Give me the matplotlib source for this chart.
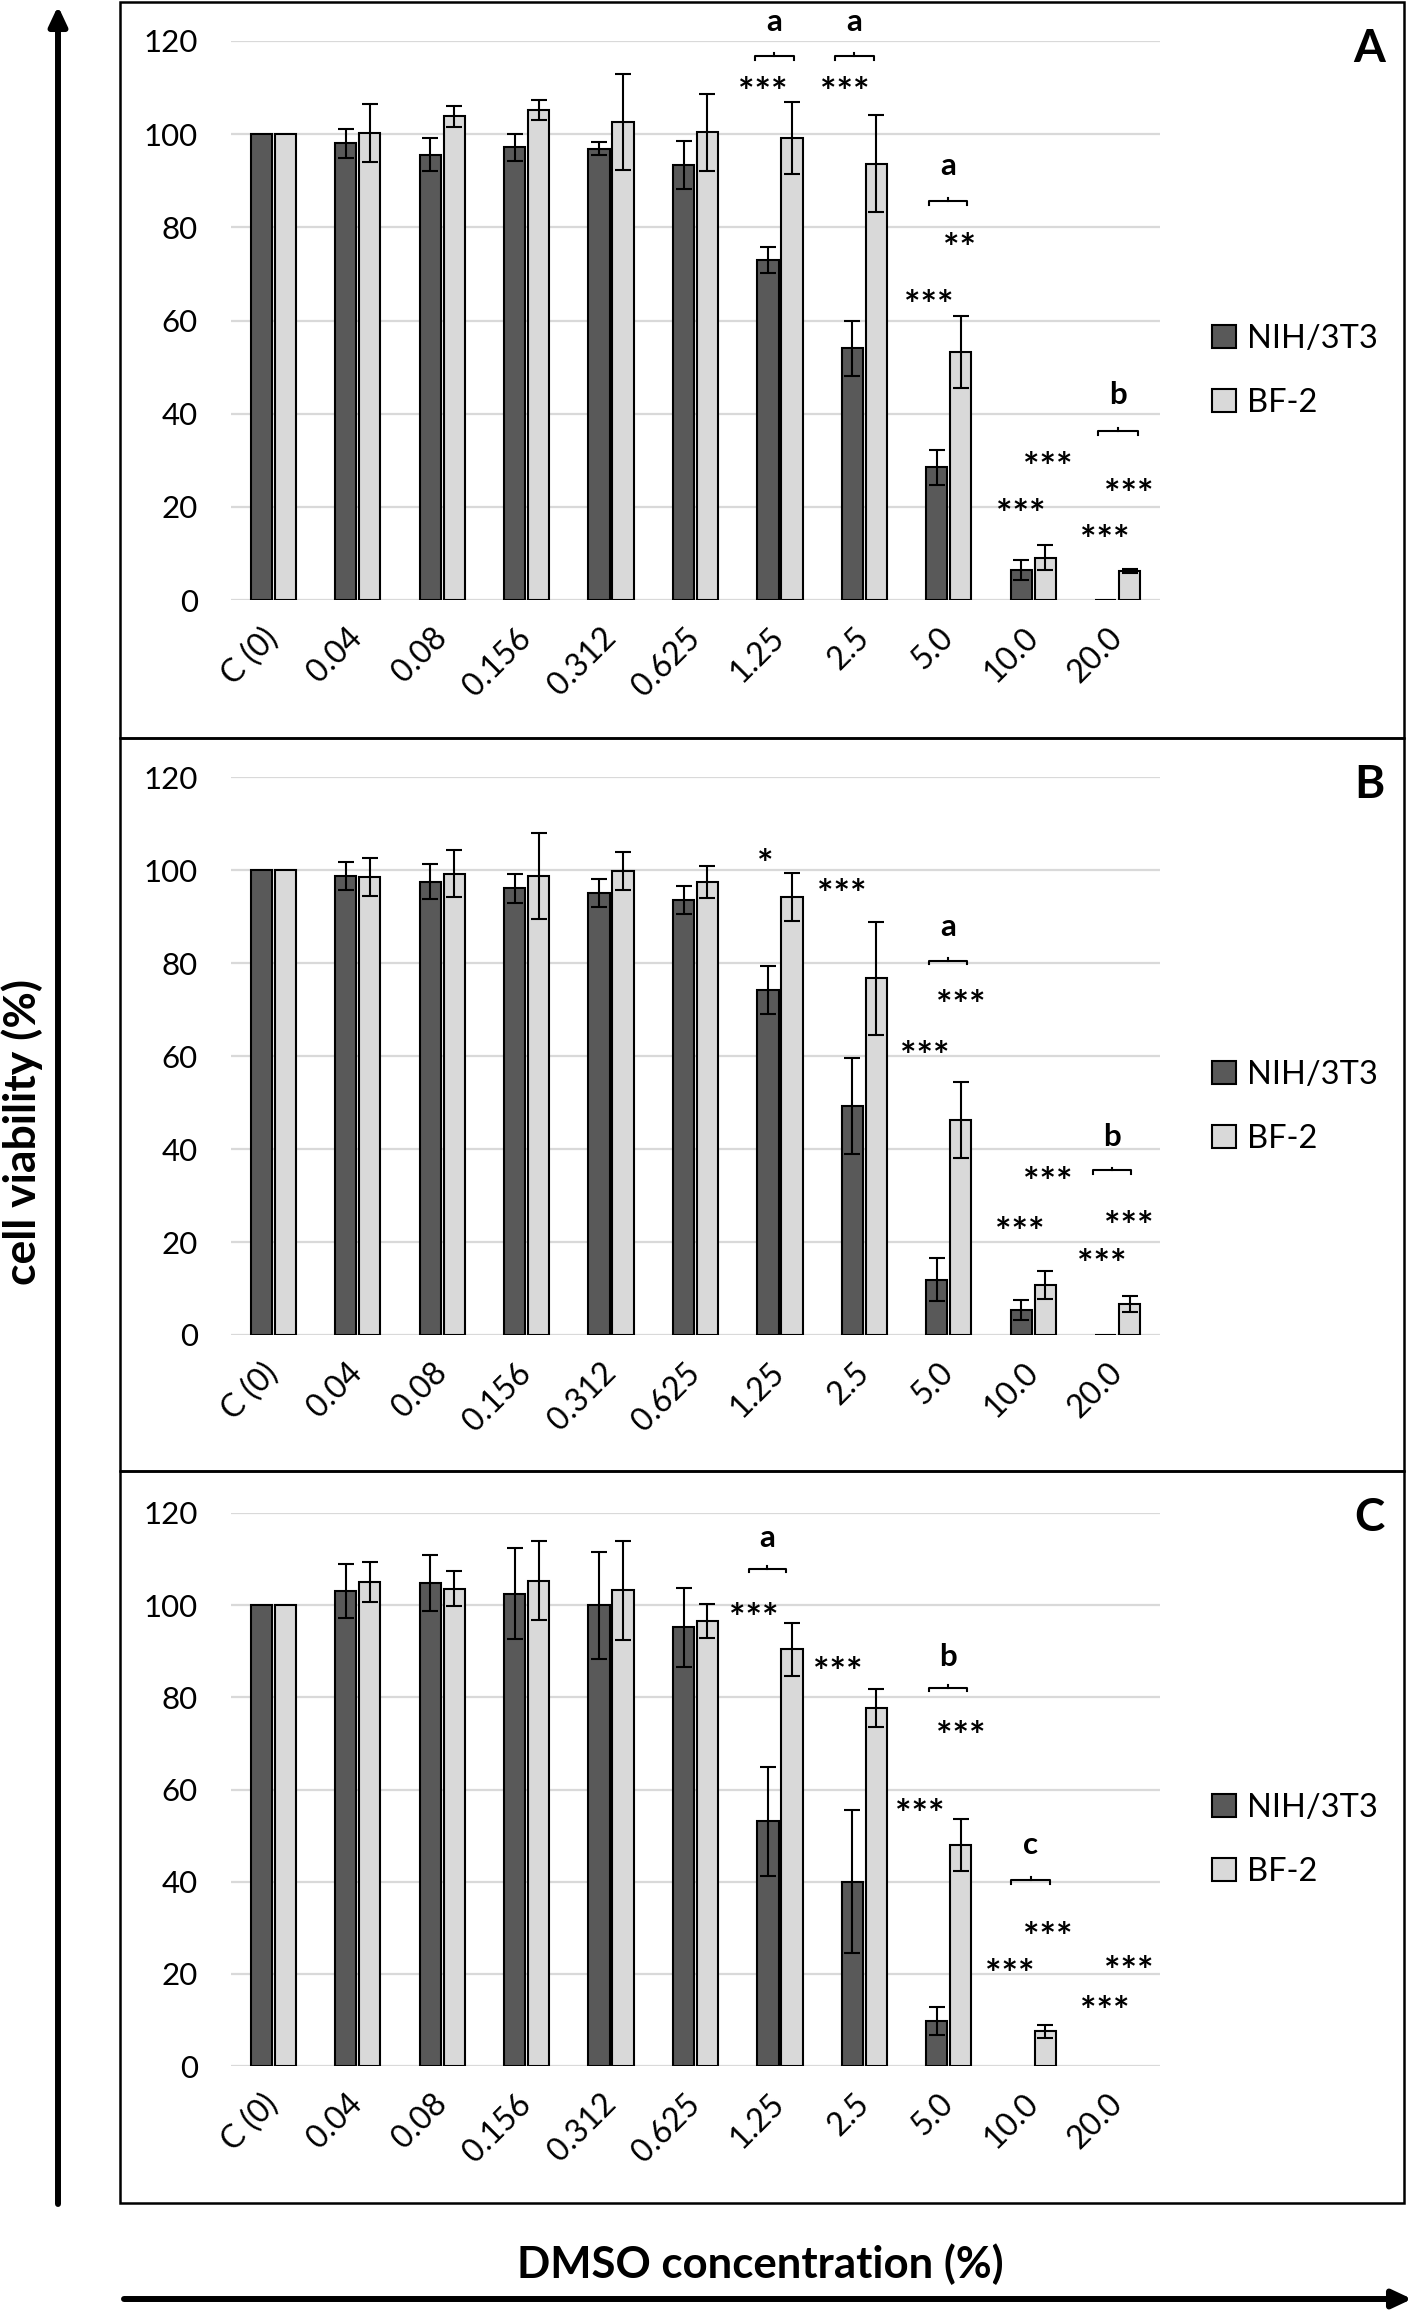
import numpy as np
import matplotlib
matplotlib.use('Agg')
import matplotlib.pyplot as plt
from matplotlib.patches import Rectangle, FancyArrowPatch

plt.rcParams['font.family'] = ['Lato', 'DejaVu Sans']

categories = ['C (0)', '0.04', '0.08', '0.156', '0.312', '0.625',
              '1.25', '2.5', '5.0', '10.0', '20.0']
nan = np.nan

# panel A
A_nih = [100, 98.0, 95.6, 97.2, 96.9, 93.4, 73.0, 54.0, 28.5, 6.4, 0]
A_nih_err = [nan, 3.1, 3.5, 2.9, 1.4, 5.1, 2.8, 6.0, 3.8, 2.2, nan]
A_bf = [100, 100.3, 103.8, 105.2, 102.7, 100.4, 99.1, 93.7, 53.2, 9.1, 6.2]
A_bf_err = [nan, 6.2, 2.2, 2.1, 10.3, 8.3, 7.7, 10.5, 7.7, 2.6, 0.5]
A_stars = [('***', 5.80, 111.0), ('***', 6.77, 111.0), ('**', 8.13, 77.5),
           ('***', 7.76, 65.3), ('***', 9.17, 30.5), ('***', 8.85, 20.4),
           ('***', 10.13, 24.7), ('***', 9.85, 14.8)]
A_brackets = [(5.70, 6.17, 116.8, 'a', 122.2), (6.65, 7.11, 116.8, 'a', 122.2),
              (7.76, 8.22, 85.7, 'a', 91.2), (9.77, 10.24, 36.3, 'b', 42.1)]

# panel B
B_nih = [100, 98.8, 97.5, 96.1, 95.1, 93.6, 74.2, 49.2, 11.9, 5.4, 0]
B_nih_err = [nan, 3.0, 3.7, 3.1, 3.0, 3.0, 5.2, 10.3, 4.6, 2.2, nan]
B_bf = [100, 98.5, 99.2, 98.7, 99.8, 97.4, 94.2, 76.7, 46.2, 10.7, 6.6]
B_bf_err = [nan, 4.0, 5.1, 9.3, 4.1, 3.5, 5.1, 12.1, 8.2, 3.0, 1.7]
B_stars = [('*', 5.82, 103.2), ('***', 6.73, 96.8), ('***', 8.14, 72.9),
           ('***', 7.72, 62.0), ('***', 9.17, 34.8), ('***', 8.84, 24.2),
           ('***', 10.13, 25.5), ('***', 9.81, 17.3)]
B_brackets = [(7.76, 8.22, 80.5, 'a', 85.7), (9.71, 10.16, 35.4, 'b', 40.7)]

# panel C
C_nih = [100, 103.1, 104.8, 102.5, 100.0, 95.2, 53.1, 40.0, 9.8, nan, nan]
C_nih_err = [nan, 5.8, 6.1, 9.9, 11.6, 8.6, 11.8, 15.5, 3.0, nan, nan]
C_bf = [100, 105.0, 103.6, 105.3, 103.2, 96.6, 90.4, 77.7, 48.0, 7.5, nan]
C_bf_err = [nan, 4.3, 3.8, 8.6, 10.7, 3.7, 5.8, 4.2, 5.6, 1.4, nan]
C_stars = [('***', 5.69, 99.2), ('***', 6.68, 87.5), ('***', 8.14, 73.5),
           ('***', 7.65, 56.7), ('***', 9.17, 30.0), ('***', 8.72, 22.0),
           ('***', 10.13, 22.5), ('***', 9.84, 13.9)]
C_brackets = [(5.63, 6.07, 107.9, 'a', 112.7), (7.76, 8.22, 82.1, 'b', 86.7),
              (8.74, 9.20, 40.4, 'c', 46.0)]

W, H = 1418, 2310
fig = plt.figure(figsize=(W / 100, H / 100), dpi=100)


def fx(px):
    return px / W


def fy(py):
    return 1 - py / H


panels = [
    ('A', 2, 738, 41, 600, A_nih, A_nih_err, A_bf, A_bf_err, A_stars, A_brackets),
    ('B', 738, 1471, 777, 1335, B_nih, B_nih_err, B_bf, B_bf_err, B_stars, B_brackets),
    ('C', 1471, 2203, 1513, 2066, C_nih, C_nih_err, C_bf, C_bf_err, C_stars, C_brackets),
]

x = np.arange(len(categories))
off, bw = 0.142, 0.25
dark, light = '#595959', '#d9d9d9'
star_fs = 28

for letter, top, bot, y120, y0, nih, nih_err, bf, bf_err, stars, brackets in panels:
    # frame round each panel
    fig.add_artist(Rectangle((fx(120), fy(bot)), fx(1404) - fx(120), fy(top) - fy(bot),
                             transform=fig.transFigure, fill=False, ec='black', lw=1.8))

    ax = fig.add_axes([fx(231), fy(y0), fx(1160) - fx(231), fy(y120) - fy(y0)])
    b1 = ax.bar(x - off, nih, bw, color=dark, edgecolor='black', linewidth=1.5, zorder=2)
    b2 = ax.bar(x + off, bf, bw, color=light, edgecolor='black', linewidth=1.5, zorder=2)
    ax.errorbar(x - off, nih, yerr=nih_err, fmt='none', ecolor='black',
                elinewidth=1.5, capsize=5.5, capthick=1.5, zorder=3)
    ax.errorbar(x + off, bf, yerr=bf_err, fmt='none', ecolor='black',
                elinewidth=1.5, capsize=5.5, capthick=1.5, zorder=3)

    ax.set_xlim(-0.5, len(categories) - 0.5)
    ax.set_ylim(0, 120)
    ax.set_yticks(np.arange(0, 121, 20))
    ax.yaxis.grid(True, color='#d9d9d9', lw=1.6)
    ax.set_axisbelow(True)
    for s in ax.spines.values():
        s.set_visible(False)
    ax.tick_params(length=0, labelsize=22.5)
    ax.tick_params(axis='y', pad=24)
    ax.tick_params(axis='x', pad=24)
    ax.set_xticks(x)
    ax.set_xticklabels(categories, rotation=45, ha='right', va='center',
                       rotation_mode='anchor', fontsize=23)

    for s, sx, sy in stars:
        ax.annotate(s, (sx, sy), xytext=(0, -0.57 * star_fs), textcoords='offset points',
                    ha='center', va='baseline', fontsize=star_fs,
                    fontweight='bold', annotation_clip=False, zorder=4)
    for bx0, bx1, by, lab, ly in brackets:
        ax.plot([bx0, bx0, bx1, bx1], [by - 0.8, by, by, by - 0.8], color='black',
                lw=1.5, clip_on=False, zorder=4)
        ax.plot([(bx0 + bx1) / 2] * 2, [by, by + 0.6], color='black', lw=1.5,
                clip_on=False, zorder=4)
        ax.text((bx0 + bx1) / 2, ly, lab, ha='center', va='baseline', fontsize=22.5,
                fontweight='bold', clip_on=False, zorder=4)

    ax.legend([b1, b2], ['NIH/3T3', 'BF-2'], loc='center left',
              bbox_to_anchor=(fx(1212), fy(top + 369)), bbox_transform=fig.transFigure,
              frameon=False, fontsize=23.5, handlelength=0.72, handleheight=0.72,
              handletextpad=0.35, labelspacing=1.05, borderpad=0, borderaxespad=0)

    fig.text(fx(1369), fy(top + 47), letter, ha='center', va='center',
             fontsize=33, fontweight='bold')

# axis arrows and titles
fig.add_artist(FancyArrowPatch((fx(58), fy(2204)), (fx(58), fy(6)), transform=fig.transFigure,
                               arrowstyle='-|>,head_length=0.32,head_width=0.15',
                               mutation_scale=36, lw=4.3, color='black',
                               shrinkA=0, shrinkB=0))
fig.add_artist(FancyArrowPatch((fx(124), fy(2299)), (fx(1412), fy(2299)), transform=fig.transFigure,
                               arrowstyle='-|>,head_length=0.32,head_width=0.15',
                               mutation_scale=36, lw=4.3, color='black',
                               shrinkA=0, shrinkB=0))
fig.text(fx(22), fy(1132), 'cell viability (%)', rotation=90, ha='center', va='center',
         fontsize=32, fontweight='bold')
fig.text(fx(760), fy(2264), 'DMSO concentration (%)', ha='center', va='center',
         fontsize=31.5, fontweight='bold')

fig.savefig('out.png', dpi=100, facecolor='white')
